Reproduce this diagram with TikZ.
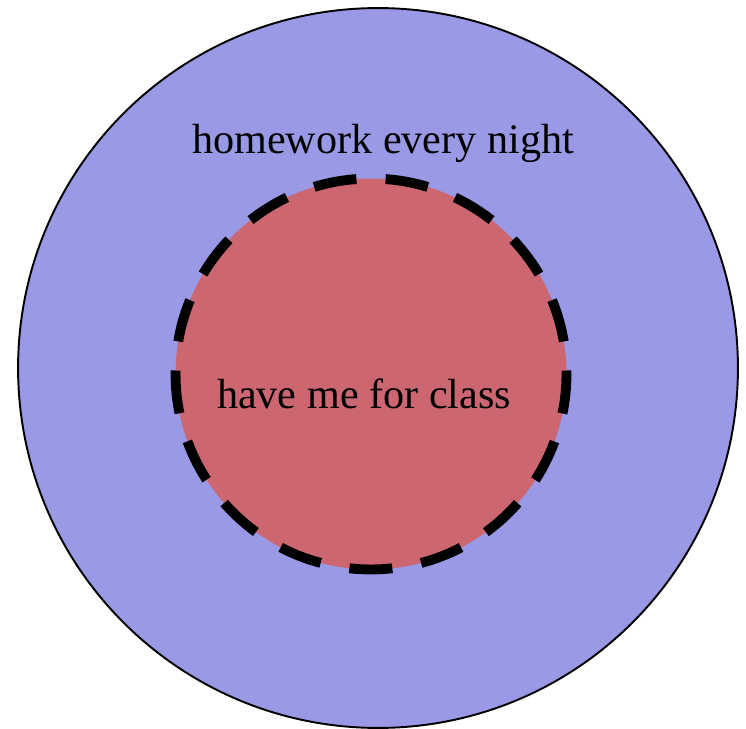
\documentclass[tikz,border=0pt]{standalone}
\usepackage{fontspec}
\setmainfont{Liberation Serif}
\definecolor{outerblue}{RGB}{153,153,230}
\definecolor{innerred}{RGB}{204,102,112}
\tikzset{
  ring/.style={draw,circle,inner sep=0pt},
  label text/.style={font=\fontsize{24}{28}\selectfont}
}
\begin{document}
\begin{tikzpicture}[x=0.02cm,y=-0.02cm]
\useasboundingbox (0,0) rectangle (746,729);
\node[ring,fill=outerblue,line width=1.1pt,minimum size=14.4cm] (night) at (378,368) {};
\node[ring,fill=innerred,line width=5.6pt,dash pattern=on 0.86cm off 0.585cm,dash phase=0.79cm,minimum size=7.82cm] (class) at (371,374) {};
\node[label text] (nighttext) at (383,143) {homework every night};
\node[label text] (classtext) at (364,394) {have me for class};
\end{tikzpicture}
\end{document}
